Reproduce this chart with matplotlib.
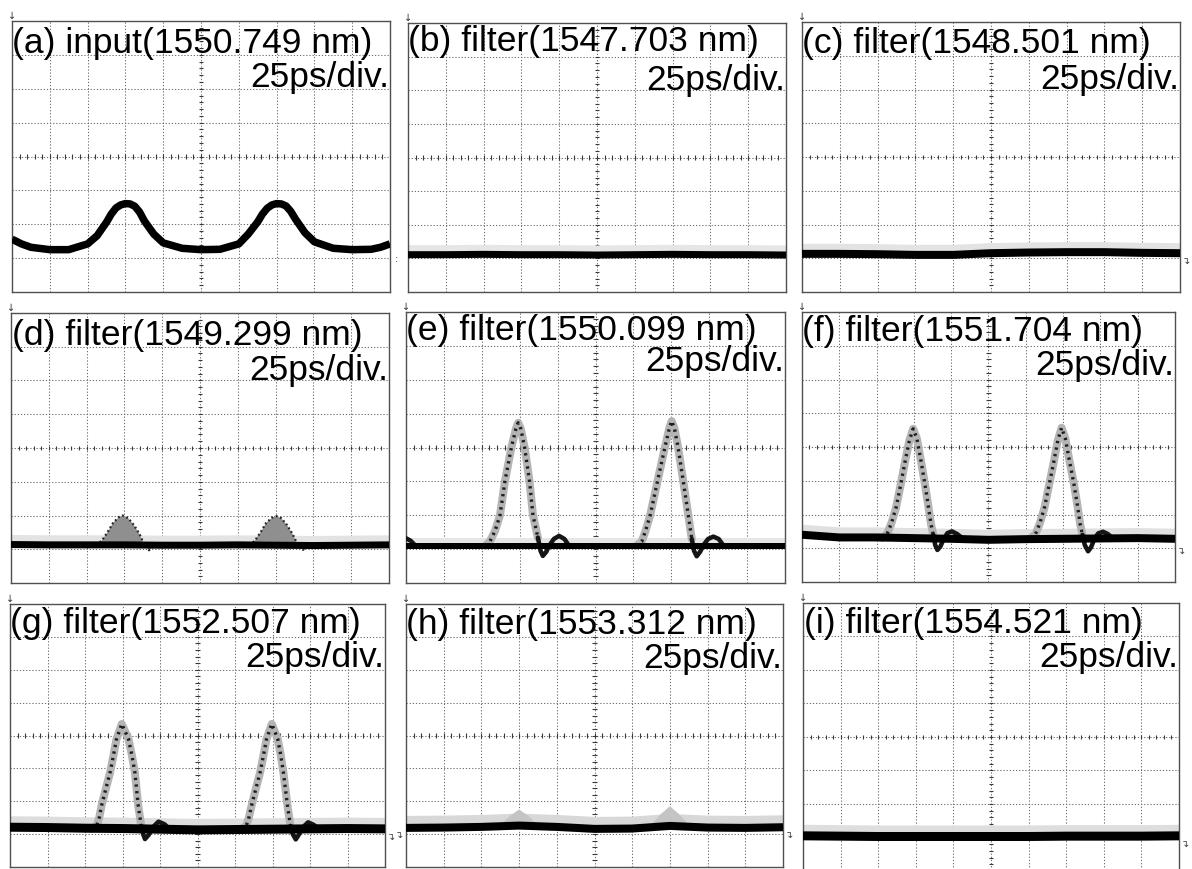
import matplotlib
matplotlib.use("Agg")
import matplotlib.pyplot as plt

# ---------------- data (all values in screen divisions: x 0..10, y 0..8) ----------------
panel_labels = ["(a) input(1550.749 nm)", "(b) filter(1547.703 nm)", "(c) filter(1548.501 nm)",
                "(d) filter(1549.299 nm)", "(e) filter(1550.099 nm)", "(f) filter(1551.704 nm)",
                "(g) filter(1552.507 nm)", "(h) filter(1553.312 nm)", "(i) filter(1554.521 nm)"]
time_scale_label = "25ps/div."

base_x = [0, 1, 2, 3, 4, 5, 6, 7, 8, 9, 10]

# (a) input pulse train
input_x = [0, 0.25, 0.5, 1.0, 1.5, 2.0, 2.25, 2.5, 2.625, 2.75, 2.875, 3.0, 3.125, 3.25, 3.375, 3.5, 3.75, 4.0, 4.5,
           5.0, 5.5, 6.0, 6.25, 6.5, 6.625, 6.75, 6.875, 7.0, 7.125, 7.25, 7.375, 7.5, 7.75, 8.0, 8.5, 9.0, 9.5, 9.75, 10.0]
input_y = [1.56, 1.42, 1.32, 1.25, 1.25, 1.42, 1.66, 2.06, 2.30, 2.48, 2.57, 2.61, 2.60, 2.53, 2.36, 2.10, 1.71, 1.45, 1.29,
           1.25, 1.26, 1.42, 1.71, 2.07, 2.30, 2.47, 2.57, 2.61, 2.60, 2.54, 2.38, 2.15, 1.75, 1.48, 1.29, 1.25, 1.26, 1.32, 1.42]

# baselines (zero level) of the filtered outputs
base_b = [1.11, 1.11, 1.12, 1.11, 1.11, 1.10, 1.11, 1.12, 1.11, 1.11, 1.10]
base_c = [1.13, 1.13, 1.12, 1.10, 1.10, 1.15, 1.17, 1.18, 1.18, 1.16, 1.15]
base_d = [1.14, 1.13, 1.13, 1.13, 1.12, 1.12, 1.13, 1.12, 1.11, 1.12, 1.13]
base_e = [1.10, 1.10, 1.10, 1.10, 1.10, 1.10, 1.10, 1.10, 1.10, 1.10, 1.10]
base_f = [1.40, 1.32, 1.32, 1.30, 1.28, 1.25, 1.27, 1.28, 1.29, 1.30, 1.28]
base_g = [1.21, 1.20, 1.18, 1.17, 1.15, 1.13, 1.14, 1.15, 1.16, 1.17, 1.16]
base_h = [1.19, 1.20, 1.22, 1.26, 1.22, 1.16, 1.17, 1.25, 1.20, 1.19, 1.21]
base_i = [1.05, 1.04, 1.03, 1.03, 1.03, 1.03, 1.03, 1.04, 1.04, 1.04, 1.05]

# (d) weak pulses
d_p1_x = [2.25, 2.40, 2.55, 2.70, 2.85, 2.95, 3.10, 3.25, 3.40, 3.52, 3.65, 3.78]
d_p1_y = [1.13, 1.25, 1.50, 1.78, 1.95, 2.00, 1.92, 1.72, 1.45, 1.15, 0.97, 1.10]
d_p2_x = [6.30, 6.45, 6.60, 6.75, 6.90, 7.02, 7.15, 7.30, 7.45, 7.58, 7.72, 7.85]
d_p2_y = [1.13, 1.25, 1.50, 1.78, 1.93, 1.98, 1.92, 1.72, 1.45, 1.15, 0.98, 1.10]

# (e) pulses and ringing
e_p1_x = [2.10, 2.22, 2.35, 2.48, 2.61, 2.78, 2.90, 2.96, 3.03, 3.13, 3.26, 3.35, 3.48]
e_p1_y = [1.10, 1.24, 1.54, 2.00, 3.00, 4.00, 4.55, 4.73, 4.55, 4.00, 3.00, 2.00, 1.34]
e_r1_x = [3.48, 3.55, 3.61, 3.70, 3.78, 3.90, 4.04, 4.18, 4.30]
e_r1_y = [1.34, 0.95, 0.80, 0.92, 1.10, 1.30, 1.39, 1.30, 1.10]
e_p2_x = [6.08, 6.22, 6.32, 6.44, 6.63, 6.83, 6.95, 7.01, 7.08, 7.18, 7.32, 7.45, 7.54]
e_p2_y = [1.10, 1.22, 1.54, 1.99, 2.97, 4.00, 4.58, 4.78, 4.58, 4.00, 2.97, 1.99, 1.30]
e_r2_x = [7.54, 7.60, 7.67, 7.76, 7.85, 7.97, 8.11, 8.25, 8.38]
e_r2_y = [1.30, 0.95, 0.79, 0.92, 1.12, 1.30, 1.37, 1.30, 1.10]
e_r0_x = [0.0, 0.12, 0.25]
e_r0_y = [1.32, 1.25, 1.10]

# (f) pulses and ringing
f_p1_x = [2.15, 2.28, 2.40, 2.52, 2.64, 2.76, 2.88, 2.98, 3.08, 3.18, 3.28, 3.38, 3.46, 3.52]
f_p1_y = [1.30, 1.42, 1.75, 2.20, 2.85, 3.55, 4.20, 4.54, 4.25, 3.65, 3.00, 2.30, 1.70, 1.40]
f_r1_x = [3.52, 3.57, 3.63, 3.71, 3.80, 3.90, 4.02, 4.16, 4.30]
f_r1_y = [1.40, 1.10, 0.95, 1.05, 1.28, 1.45, 1.50, 1.42, 1.30]
f_p2_x = [6.13, 6.26, 6.38, 6.50, 6.62, 6.74, 6.86, 6.96, 7.06, 7.16, 7.28, 7.38, 7.46, 7.52]
f_p2_y = [1.30, 1.42, 1.75, 2.20, 2.85, 3.50, 4.20, 4.57, 4.25, 3.65, 2.97, 2.30, 1.70, 1.40]
f_r2_x = [7.52, 7.58, 7.67, 7.75, 7.84, 7.94, 8.07, 8.20, 8.33]
f_r2_y = [1.40, 1.10, 0.91, 1.03, 1.28, 1.44, 1.49, 1.42, 1.30]

# (g) pulses and ringing
g_p1_x = [2.18, 2.31, 2.38, 2.44, 2.56, 2.67, 2.76, 2.84, 2.98, 3.08, 3.16, 3.25, 3.33, 3.42, 3.50]
g_p1_y = [1.16, 1.25, 1.50, 1.86, 2.40, 2.88, 3.40, 3.89, 4.35, 4.10, 3.89, 3.40, 2.88, 1.86, 1.25]
g_r1_x = [3.50, 3.55, 3.60, 3.70, 3.80, 3.96, 4.12, 4.25]
g_r1_y = [1.25, 1.00, 0.85, 0.98, 1.20, 1.38, 1.30, 1.16]
g_p2_x = [6.17, 6.30, 6.37, 6.44, 6.56, 6.67, 6.76, 6.84, 6.98, 7.07, 7.14, 7.22, 7.29, 7.40, 7.48]
g_p2_y = [1.16, 1.25, 1.50, 1.86, 2.40, 2.88, 3.40, 3.89, 4.35, 4.10, 3.89, 3.40, 2.88, 1.86, 1.25]
g_r2_x = [7.48, 7.54, 7.62, 7.70, 7.80, 7.95, 8.10, 8.24]
g_r2_y = [1.25, 1.00, 0.84, 0.98, 1.20, 1.36, 1.28, 1.16]

# (h) faint residual pulses
h_p1_x = [2.45, 2.75, 3.00, 3.25, 3.55]
h_p1_y = [1.22, 1.55, 1.75, 1.55, 1.22]
h_p2_x = [6.45, 6.75, 7.00, 7.25, 7.55]
h_p2_y = [1.22, 1.60, 1.85, 1.60, 1.22]

# ---------------- layout (pixels) ----------------
W, H = 1192, 870
# x0, x1, y0(top), y1(bottom)
boxes = [(12, 390, 22, 293), (408, 786, 24, 293), (802, 1180, 23, 293),
         (11, 389, 314, 584), (406, 785, 313, 584), (802, 1175, 313, 583),
         (10, 385, 605, 868), (406, 783, 605, 868), (803, 1179, 604, 872)]
title_gap = [5.5, 0.5, 4.0, 5.0, 1.0, 2.5, 2.5, 3.5, 3.5]
scale_gap = [39, 40, 40, 40, 32, 36, 36, 37, 37]
core_px = [7, 7, 8, 7, 6, 8, 9, 8, 9]
halo_px = [0, 11, 12, 11, 9, 12, 14, 16, 14]
halo_col = ["#ffffff", "#e6e6e6", "#e3e3e3", "#e3e3e3", "#e6e6e6", "#e0e0e0", "#dddddd", "#d8d8d8", "#dedede"]

fig = plt.figure(figsize=(W / 100, H / 100), dpi=100)
PT = 72 / 100.0  # points per pixel

FONT = ["Liberation Sans", "DejaVu Sans"]
FS = 25.5
GRIDC = "#6e6e6e"


def make_axes(k):
    x0, x1, y0, y1 = boxes[k]
    ax = fig.add_axes([x0 / W, 1 - y1 / H, (x1 - x0) / W, (y1 - y0) / H])
    ax.set_xlim(0, 10)
    ax.set_ylim(0, 8)
    ax.set_xticks([])
    ax.set_yticks([])
    for s in ax.spines.values():
        s.set_color("#505050")
        s.set_linewidth(1.0)
    ax.vlines(range(1, 10), 0, 8, colors=GRIDC, linewidth=0.75, linestyles=[(0, (1.2, 1.8))], zorder=1)
    ax.hlines(range(1, 8), 0, 10, colors=GRIDC, linewidth=0.75, linestyles=[(0, (1.2, 1.8))], zorder=1)
    tx = [j * 0.2 for j in range(1, 50)]
    ty = [j * 0.2 for j in range(1, 40)]
    ax.vlines(tx, 4 - 0.065, 4 + 0.065, colors="#3a3a3a", linewidth=0.8, zorder=1)
    ax.hlines(ty, 5 - 0.055, 5 + 0.055, colors="#3a3a3a", linewidth=0.8, zorder=1)
    # labels
    fig.text((x0 + 0.5) / W, 1 - (y0 + title_gap[k]) / H, panel_labels[k], ha="left", va="top",
             fontsize=FS, family=FONT, color="black", zorder=5)
    fig.text((x1 - 1) / W, 1 - (y0 + scale_gap[k]) / H, time_scale_label, ha="right", va="top",
             fontsize=FS, family=FONT, color="black", zorder=5)
    # small trigger arrow at top-left
    fig.text(x0 / W, 1 - (y0 - 1) / H, "\u2193", ha="center", va="bottom", fontsize=7,
             family=["DejaVu Sans"], color="#333333")
    return ax


def baseline(ax, ys, k):
    if halo_px[k]:
        ax.plot(base_x, [y + 0.12 for y in ys], color=halo_col[k], lw=halo_px[k] * PT,
                solid_capstyle="butt", zorder=2)
    ax.plot(base_x, ys, color="black", lw=core_px[k] * PT, solid_capstyle="butt",
            solid_joinstyle="round", zorder=4)


def pulse(ax, xs, ys):
    ax.plot(xs, ys, color="#b4b4b4", lw=8 * PT, solid_joinstyle="round", solid_capstyle="round", zorder=3)
    ax.plot(xs, ys, color="#1e1e1e", lw=2.4, ls=(0, (0.7, 1.3)), zorder=3)


def ringing(ax, xs, ys):
    ax.plot(xs, ys, color="#151515", lw=4.5 * PT, solid_joinstyle="round", solid_capstyle="round", zorder=3)


def right_mark(k, yv, glyph="\u21b4", side="right"):
    x0, x1, y0, y1 = boxes[k]
    py = y1 - (y1 - y0) * yv / 8.0
    px = x1 + 6 if side == "right" else x0 - 7
    fig.text(px / W, 1 - py / H, glyph, ha="center", va="center", fontsize=7,
             family=["DejaVu Sans"], color="#444444")


# (a)
ax = make_axes(0)
ax.plot(input_x, input_y, color="black", lw=7.5 * PT, solid_joinstyle="round", solid_capstyle="butt", zorder=4)
right_mark(0, 1.0, ":")

# (b)
ax = make_axes(1)
baseline(ax, base_b, 1)

# (c)
ax = make_axes(2)
baseline(ax, base_c, 2)
right_mark(2, 0.95)

# (d)
ax = make_axes(3)
for xs, ys in ((d_p1_x, d_p1_y), (d_p2_x, d_p2_y)):
    ax.fill(xs, ys, color="#8f8f8f", lw=0, zorder=3)
    ax.plot(xs, ys, color="#222222", lw=1.6, ls=(0, (0.8, 1.2)), zorder=3)
baseline(ax, base_d, 3)

# (e)
ax = make_axes(4)
pulse(ax, e_p1_x, e_p1_y)
pulse(ax, e_p2_x, e_p2_y)
ringing(ax, e_r1_x, e_r1_y)
ringing(ax, e_r2_x, e_r2_y)
ringing(ax, e_r0_x, e_r0_y)
baseline(ax, base_e, 4)

# (f)
ax = make_axes(5)
pulse(ax, f_p1_x, f_p1_y)
pulse(ax, f_p2_x, f_p2_y)
ringing(ax, f_r1_x, f_r1_y)
ringing(ax, f_r2_x, f_r2_y)
baseline(ax, base_f, 5)
right_mark(5, 0.95)

# (g)
ax = make_axes(6)
pulse(ax, g_p1_x, g_p1_y)
pulse(ax, g_p2_x, g_p2_y)
ringing(ax, g_r1_x, g_r1_y)
ringing(ax, g_r2_x, g_r2_y)
baseline(ax, base_g, 6)
right_mark(6, 0.95)

# (h)
ax = make_axes(7)
for xs, ys in ((h_p1_x, h_p1_y), (h_p2_x, h_p2_y)):
    ax.fill(xs, ys, color="#c4c4c4", lw=0, zorder=3)
baseline(ax, base_h, 7)
right_mark(7, 1.0)
right_mark(7, 1.0, side="left")

# (i)
ax = make_axes(8)
baseline(ax, base_i, 8)
right_mark(8, 0.85)

fig.savefig("out.png", dpi=100)
